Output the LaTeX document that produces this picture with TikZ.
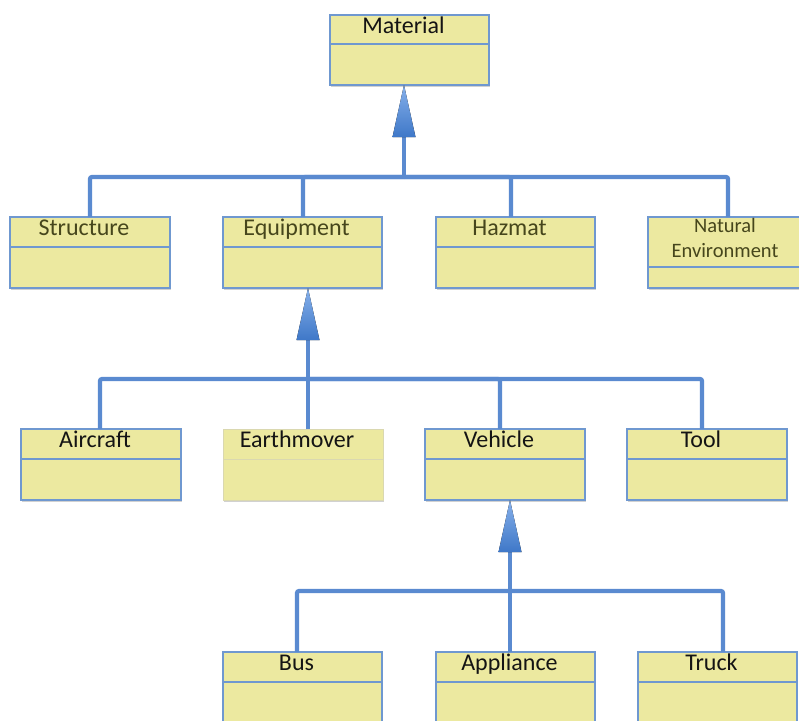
\documentclass[tikz,border=0pt]{standalone}
\usepackage{fontspec}
\setmainfont{Carlito}
\usetikzlibrary{shadows}

\definecolor{boxfill}{HTML}{ECE9A0}
\definecolor{boxline}{HTML}{6F98D0}
\definecolor{faintline}{HTML}{DAD8B0}
\definecolor{connblue}{HTML}{5A8AD0}
\definecolor{arrowlight}{HTML}{86B0EA}
\definecolor{arrowdark}{HTML}{3F78C8}
\definecolor{olive}{RGB}{70,70,28}
\definecolor{ink}{HTML}{141414}

\tikzset{
  classbox/.style={rectangle, fill=boxfill, draw=boxline, line width=1.4pt,
    minimum width=160pt, minimum height=71pt, inner sep=0pt, outer sep=0pt,
    drop shadow={shadow xshift=1.2pt, shadow yshift=-1.5pt, opacity=0.18, fill=black}},
  plainbox/.style={classbox, draw=faintline, line width=1pt},
  divider/.style={draw=boxline, line width=1.3pt},
  plaindivider/.style={draw=faintline, line width=1pt},
  lbl/.style={font=\fontsize{24}{28}\selectfont, text=ink, inner sep=0pt},
  sublbl/.style={lbl, text=olive},
  conn/.style={draw=connblue, line width=4.2pt, rounded corners=2pt},
  genhead/.style={top color=arrowlight, bottom color=arrowdark}
}

% header separator of a class box
\newcommand\classdivider[2][30pt]{%
  \draw[divider] ([yshift=-#1]#2.north west) -- ([yshift=-#1]#2.north east);}
% class name, set on a baseline near the top of the box
\newcommand\classlabel[3][lbl]{%
  \node[#1, anchor=base] (#2-name) at ([xshift=-6pt,yshift=-18.5pt]#2.north) {#3};}
% generalisation head: tip at #1, pointing up
\newcommand\genarrow[1]{%
  \fill[genhead] (#1) -- ([xshift=-11.5pt,yshift=-52pt]#1) -- ([xshift=11.5pt,yshift=-52pt]#1) -- cycle;}

\begin{document}
\begin{tikzpicture}[x=1pt, y=-1pt]
\useasboundingbox (0,0) rectangle (799,720);
\clip (0,0) rectangle (799,720);

% ---------- root ----------
\node[classbox, minimum width=159pt, minimum height=70pt, anchor=north west] (mat) at (330,15) {};
\classdivider[29pt]{mat}
\classlabel{mat}{Material}

% ---------- second level ----------
\node[classbox, anchor=north west] (str) at (10,217) {};
\classdivider{str}
\classlabel[sublbl]{str}{Structure}

\node[classbox, minimum width=159pt, anchor=north west] (equ) at (223,217) {};
\classdivider{equ}
\classlabel[sublbl]{equ}{Equipment}

\node[classbox, minimum width=159pt, anchor=north west] (haz) at (436,217) {};
\classdivider{haz}
\classlabel[sublbl]{haz}{Hazmat}

\node[classbox, anchor=north west] (nat) at (648,217) {};
\classdivider[50pt]{nat}
\node[sublbl, font=\fontsize{20.5}{25}\selectfont, align=center, anchor=base]
  (nat-name) at ([xshift=-3pt,yshift=-40pt]nat.north) {Natural\\Environment};

% ---------- third level ----------
\node[classbox, anchor=north west] (air) at (21,429) {};
\classdivider{air}
\classlabel{air}{Aircraft}

\node[plainbox, anchor=north west] (ear) at (223,429) {};
\draw[plaindivider] ([yshift=-30pt]ear.north west) -- ([yshift=-30pt]ear.north east);
\classlabel{ear}{Earthmover}

\node[classbox, anchor=north west] (veh) at (425,429) {};
\classdivider{veh}
\classlabel{veh}{Vehicle}

\node[classbox, anchor=north west] (too) at (627,429) {};
\classdivider{too}
\classlabel{too}{Tool}

% ---------- fourth level ----------
\node[classbox, minimum width=159pt, anchor=north west] (bus) at (223,652) {};
\classdivider{bus}
\classlabel{bus}{Bus}

\node[classbox, minimum width=159pt, anchor=north west] (app) at (436,652) {};
\classdivider{app}
\classlabel{app}{Appliance}

\node[classbox, minimum width=159pt, anchor=north west] (tru) at (638,652) {};
\classdivider{tru}
\classlabel{tru}{Truck}

% ---------- generalisation trees ----------
\coordinate (b1) at (404,177);
\coordinate (b2) at (308,379);
\coordinate (b3) at (510,591);
\coordinate (t1) at (b1 |- mat.south);
\coordinate (t2) at (b2 |- equ.south);
\coordinate (t3) at (b3 |- veh.south);

% Material <- Structure, Equipment, Hazmat, Natural Environment
\draw[conn] (str.north) |- (b1);
\draw[conn] ([xshift=0.5pt]equ.north) |- (b1);
\draw[conn] ([xshift=-4.5pt]haz.north) |- (b1);
\draw[conn] (nat.north) |- (b1);
\draw[conn] (b1) -- ([yshift=-48pt]t1);
\genarrow{t1}

% Equipment <- Aircraft, Earthmover, Vehicle, Tool
\draw[conn] ([xshift=-1pt]air.north) |- (b2);
\draw[conn] (b2 |- ear.north) -- (b2);
\draw[conn] ([xshift=-5pt]veh.north) |- (b2);
\draw[conn] ([xshift=-5pt]too.north) |- (b2);
\draw[conn] (b2) -- ([yshift=-48pt]t2);
\genarrow{t2}

% Vehicle <- Bus, Appliance, Truck
\draw[conn] ([xshift=-5.5pt]bus.north) |- (b3);
\draw[conn] ([xshift=-5.5pt]app.north) |- (b3);
\draw[conn] ([xshift=5.5pt]tru.north) |- (b3);
\draw[conn] (b3) -- ([yshift=-48pt]t3);
\genarrow{t3}
\end{tikzpicture}
\end{document}
